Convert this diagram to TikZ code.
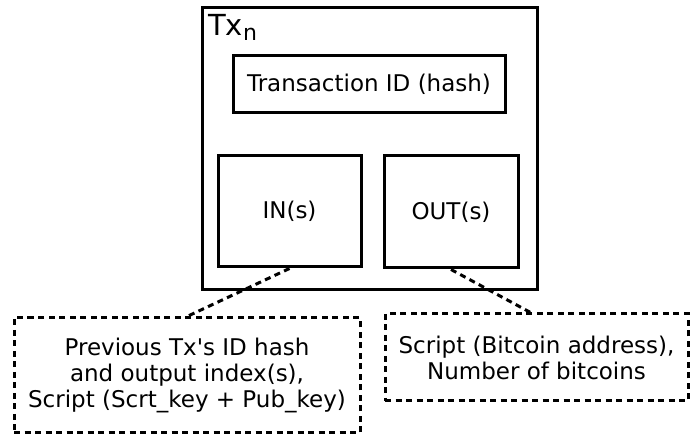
\documentclass[tikz,border=0pt]{standalone}
\usepackage{fontspec}
\setmainfont{DejaVu Sans}[Ligatures=TeXOff]
\usetikzlibrary{calc}
\begin{document}
\begin{tikzpicture}[x=1pt,y=-1pt,
  solidbox/.style={draw, line width=3pt, inner sep=0pt, align=center},
  notebox/.style={draw, line width=3pt, dash pattern=on 6pt off 4.5pt, inner sep=0pt, align=center},
  link/.style={line width=3pt, dash pattern=on 6pt off 4.5pt},
  lbl/.style={font=\fontsize{23}{26}\selectfont}]
\useasboundingbox (0,0) rectangle (697,435);
\node[solidbox, minimum width=335pt, minimum height=282pt] (tx) at (369.5,149) {};
\node[anchor=base west, inner sep=0pt, font=\fontsize{29}{30}\selectfont] (txlabel) at (208,36)
  {Tx\raisebox{-5pt}{\fontsize{22}{22}\selectfont n}};
\node[solidbox, lbl, minimum width=272pt, minimum height=57pt] (tid) at (369,84.5) {Transaction ID (hash)};
\node[solidbox, lbl, minimum width=143pt, minimum height=111pt] (in) at (289.5,211.5) {IN(s)};
\node[solidbox, lbl, minimum width=134pt, minimum height=112pt] (out) at (451,212) {OUT(s)};
\node[notebox, lbl, minimum width=346pt, minimum height=115pt] (innote) at (187,375.5)
  {Previous Tx's ID hash\\and output index(s),\\Script (Scrt\_key + Pub\_key)};
\node[notebox, lbl, minimum width=303pt, minimum height=87pt] (outnote) at (536.5,357.5)
  {Script (Bitcoin address),\\Number of bitcoins};
\draw[link] (in.south) -- (innote.north);
\draw[link] (out.south) -- ([xshift=-6pt]outnote.north);
\end{tikzpicture}
\end{document}
